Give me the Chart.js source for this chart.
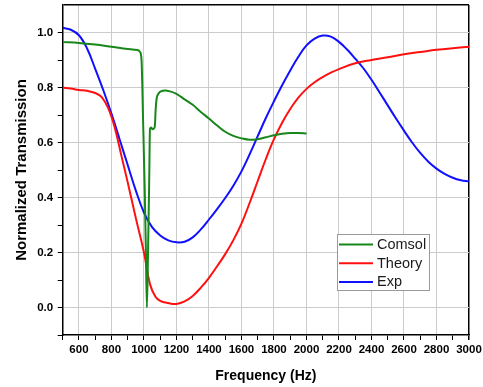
<!DOCTYPE html>
<html>
<head>
<meta charset="utf-8">
<script src="https://cdn.jsdelivr.net/npm/chart.js@4.4.1/dist/chart.umd.min.js"></script>
<style>
  body { margin: 0; background: #fff; }
</style>
</head>
<body>
<canvas id="transChart" width="483" height="387"></canvas>
<script>
// Comsol simulation
const comsolFreq = [500, 600, 700, 800, 900, 960, 975, 985, 995, 1005, 1012, 1018, 1025, 1032, 1037, 1045, 1052, 1060, 1067, 1072, 1078, 1090, 1105, 1130, 1160, 1200, 1250, 1300, 1350, 1400, 1450, 1500, 1550, 1600, 1650, 1700, 1750, 1800, 1850, 1900, 1950, 2000];
const comsolValues = [0.965, 0.962, 0.956, 0.948, 0.940, 0.936, 0.930, 0.900, 0.670, 0.420, 0.200, 0.0, 0.200, 0.450, 0.650, 0.655, 0.648, 0.650, 0.660, 0.720, 0.760, 0.778, 0.786, 0.789, 0.786, 0.777, 0.757, 0.737, 0.711, 0.687, 0.662, 0.639, 0.624, 0.615, 0.610, 0.612, 0.619, 0.626, 0.632, 0.635, 0.635, 0.633];

// Theory
const theoryFreq = [500, 550, 600, 650, 700, 740, 780, 820, 860, 900, 950, 1000, 1037, 1070, 1100, 1150, 1200, 1250, 1300, 1350, 1400, 1450, 1500, 1550, 1600, 1650, 1700, 1750, 1800, 1850, 1900, 1950, 2000, 2050, 2100, 2150, 2200, 2300, 2400, 2500, 2600, 2700, 2800, 2900, 3000];
const theoryValues = [0.800, 0.796, 0.791, 0.788, 0.780, 0.765, 0.725, 0.655, 0.555, 0.455, 0.325, 0.200, 0.085, 0.040, 0.024, 0.016, 0.013, 0.022, 0.042, 0.072, 0.108, 0.150, 0.194, 0.245, 0.305, 0.380, 0.460, 0.540, 0.612, 0.672, 0.722, 0.763, 0.795, 0.819, 0.838, 0.854, 0.867, 0.888, 0.900, 0.910, 0.921, 0.929, 0.937, 0.943, 0.948];

// Experiment
const expFreq = [500, 550, 600, 650, 700, 750, 800, 850, 900, 950, 1000, 1050, 1100, 1150, 1200, 1250, 1300, 1350, 1400, 1450, 1500, 1550, 1600, 1650, 1700, 1750, 1800, 1850, 1900, 1950, 2000, 2050, 2100, 2150, 2200, 2250, 2300, 2350, 2400, 2450, 2500, 2550, 2600, 2650, 2700, 2750, 2800, 2850, 2900, 2950, 3000];
const expValues = [1.017, 1.010, 0.990, 0.942, 0.868, 0.790, 0.705, 0.612, 0.518, 0.425, 0.345, 0.292, 0.262, 0.244, 0.237, 0.239, 0.255, 0.284, 0.320, 0.358, 0.398, 0.443, 0.495, 0.557, 0.623, 0.689, 0.750, 0.808, 0.862, 0.912, 0.953, 0.978, 0.989, 0.985, 0.966, 0.938, 0.905, 0.870, 0.828, 0.782, 0.735, 0.688, 0.643, 0.600, 0.562, 0.530, 0.505, 0.486, 0.472, 0.463, 0.459];

const seriesNames = ["Comsol", "Theory", "Exp"];
const seriesColors = ["#17871a", "#ff1010", "#1010ff"];

const xTickValues = [500, 600, 700, 800, 900, 1000, 1100, 1200, 1300, 1400, 1500, 1600, 1700, 1800, 1900, 2000, 2100, 2200, 2300, 2400, 2500, 2600, 2700, 2800, 2900, 3000];
const yTickValues = [-0.1, 0, 0.1, 0.2, 0.3, 0.4, 0.5, 0.6, 0.7, 0.8, 0.9, 1.0, 1.1];

function toPoints(xs, ys) {
  return xs.map((x, i) => ({ x: x, y: ys[i] }));
}

Chart.defaults.font.family = "'Liberation Sans', Arial, sans-serif";
Chart.defaults.color = "#000";

const tickFont = { size: 11.5, weight: "bold" };
const gridGray = "#cccccc";
const none = "rgba(0,0,0,0)";

// legend box drawn inside the plot, lower right
const legendBox = {
  id: "legendBox",
  afterDraw(chart) {
    const ctx = chart.ctx;
    ctx.save();
    ctx.fillStyle = "#fff";
    ctx.fillRect(337, 234, 92, 56);
    ctx.strokeStyle = "#9a9a9a";
    ctx.lineWidth = 1;
    ctx.strokeRect(337.5, 234.5, 92, 56);
    ctx.font = "14.5px 'Liberation Sans', Arial, sans-serif";
    ctx.textBaseline = "middle";
    chart.data.datasets.forEach((ds, i) => {
      const y = 244.5 + i * 18.7;
      ctx.strokeStyle = ds.borderColor;
      ctx.lineWidth = 2;
      ctx.beginPath();
      ctx.moveTo(339, y);
      ctx.lineTo(373, y);
      ctx.stroke();
      ctx.fillStyle = "#1a1a1a";
      ctx.fillText(ds.label, 377, y + 0.5);
    });
    ctx.restore();
  }
};

const datasets = [
  { label: seriesNames[0], data: toPoints(comsolFreq, comsolValues), cubicInterpolationMode: "monotone" },
  { label: seriesNames[1], data: toPoints(theoryFreq, theoryValues), tension: 0.4 },
  { label: seriesNames[2], data: toPoints(expFreq, expValues), tension: 0.4 }
].map((ds, i) => Object.assign(ds, {
  borderColor: seriesColors[i],
  backgroundColor: seriesColors[i],
  borderWidth: 2,
  pointRadius: 0,
  fill: false
}));

new Chart(document.getElementById("transChart").getContext("2d"), {
  type: "line",
  data: { datasets: datasets },
  options: {
    responsive: false,
    animation: false,
    layout: { padding: { top: 5, right: 14, left: 0, bottom: 0 } },
    plugins: { legend: { display: false }, tooltip: { enabled: false } },
    scales: {
      x: {
        type: "linear",
        min: 500,
        max: 3000,
        afterBuildTicks: (s) => { s.ticks = xTickValues.map((v) => ({ value: v })); },
        afterFit: (s) => { s.height = 52; s.paddingLeft = 0; s.paddingRight = 0; },
        ticks: {
          autoSkip: false,
          maxRotation: 0,
          padding: 3,
          font: tickFont,
          callback: (v) => (v % 200 === 0 ? String(v) : "")
        },
        grid: {
          color: (c) => {
            const v = c.tick.value;
            if (v === 3000) return "#000";
            if (v === 500) return none;
            return v % 200 === 0 ? gridGray : none;
          },
          lineWidth: (c) => (c.tick.value === 3000 ? 1.5 : 1),
          tickColor: "#000",
          tickLength: 5
        },
        border: { color: "#000", width: 1.5 },
        title: {
          display: true,
          text: "Frequency (Hz)",
          font: { size: 14, weight: "bold" },
          padding: { top: 0, bottom: 2.6 }
        }
      },
      y: {
        type: "linear",
        min: -0.1,
        max: 1.1,
        afterBuildTicks: (s) => { s.ticks = yTickValues.map((v) => ({ value: v })); },
        afterFit: (s) => { s.width = 62.7; s.paddingTop = 0; s.paddingBottom = 0; },
        ticks: {
          autoSkip: false,
          padding: 4.5,
          font: tickFont,
          callback: (v) => (Math.round(v * 10) % 2 === 0 ? v.toFixed(1) : "")
        },
        grid: {
          color: (c) => {
            const k = Math.round(c.tick.value * 10);
            if (k === 11) return "#000";
            if (k === -1) return none;
            return k % 2 === 0 ? gridGray : none;
          },
          lineWidth: (c) => (Math.round(c.tick.value * 10) === 11 ? 1.5 : 1),
          tickColor: (c) => (Math.round(c.tick.value * 10) === 11 ? none : "#000"),
          tickLength: 5
        },
        border: { color: "#000", width: 1.5 },
        title: {
          display: true,
          text: "Normalized Transmission",
          font: { size: 15, weight: "bold" },
          padding: { top: 12.5, bottom: 0 }
        }
      }
    }
  },
  plugins: [legendBox]
});
</script>
</body>
</html>
